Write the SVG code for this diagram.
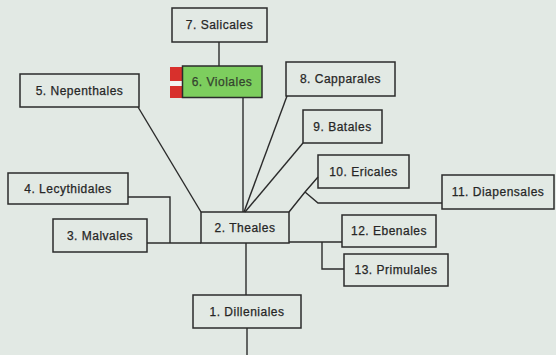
<svg xmlns="http://www.w3.org/2000/svg" width="556" height="355" viewBox="0 0 556 355">
  <style>
    .box { fill: none; stroke: #2b2b2b; stroke-width: 1.5; }
    .lbl { font-family: "Liberation Sans", Arial, sans-serif; font-size: 12px; letter-spacing: 0.5px; fill: #262626; stroke: #262626; stroke-width: 0.25; text-anchor: middle; }
    .wire { fill: none; stroke: #2b2b2b; stroke-width: 1.4; stroke-linejoin: miter; }
  </style>
  <rect x="0" y="0" width="556" height="355" fill="#e2e9e4"/>

  <!-- connectors -->
  <g id="connectors" class="wire">
    <line x1="219" y1="42" x2="219" y2="66"/>
    <line x1="243" y1="97" x2="243" y2="212"/>
    <line x1="138" y1="107" x2="201" y2="212"/>
    <line x1="287" y1="96" x2="244" y2="212"/>
    <line x1="303" y1="143" x2="245" y2="212"/>
    <polyline points="318,177 305,192 289,212"/>
    <polyline points="305,192 318,203 442,203"/>
    <polyline points="128,197 170,197 170,243"/>
    <line x1="147" y1="243" x2="201" y2="243"/>
    <line x1="289" y1="242" x2="342" y2="242"/>
    <polyline points="322,242 322,269 344,269"/>
    <line x1="246" y1="243" x2="246" y2="295"/>
    <line x1="247" y1="328" x2="247" y2="355"/>
  </g>

  <g id="n7">
    <rect class="box" x="172" y="8" width="95" height="34"/>
    <text class="lbl" x="219.5" y="29">7. Salicales</text>
  </g>
  <g id="n6">
    <!-- red tabs with a pale gap between them -->
    <rect x="170" y="81" width="13" height="5" fill="#f3f3f1"/>
    <rect x="170" y="67" width="13" height="14" fill="#d8302c"/>
    <rect x="170" y="86" width="13" height="12" fill="#d8302c"/>
    <rect x="182.5" y="66" width="79.5" height="31.5" fill="#7dce5e" stroke="#2b2b2b" stroke-width="1.5"/>
    <text class="lbl" x="222" y="86" style="fill:#34432f;stroke:#34432f">6. Violales</text>
  </g>
  <g id="n5">
    <rect class="box" x="20" y="74" width="119" height="33"/>
    <text class="lbl" x="79.5" y="95">5. Nepenthales</text>
  </g>
  <g id="n8">
    <rect class="box" x="286" y="62" width="109" height="34"/>
    <text class="lbl" x="340.5" y="83">8. Capparales</text>
  </g>
  <g id="n9">
    <rect class="box" x="303" y="110" width="79" height="33"/>
    <text class="lbl" x="342.5" y="131">9. Batales</text>
  </g>
  <g id="n10">
    <rect class="box" x="318" y="155" width="91" height="33"/>
    <text class="lbl" x="363.5" y="176">10. Ericales</text>
  </g>
  <g id="n11">
    <rect class="box" x="442" y="175" width="112" height="34"/>
    <text class="lbl" x="498" y="196">11. Diapensales</text>
  </g>
  <g id="n4">
    <rect class="box" x="8" y="173" width="120" height="31"/>
    <text class="lbl" x="68" y="193">4. Lecythidales</text>
  </g>
  <g id="n3">
    <rect class="box" x="53" y="219" width="94" height="33"/>
    <text class="lbl" x="100" y="240">3. Malvales</text>
  </g>
  <g id="n2">
    <rect class="box" x="201" y="212" width="88" height="31"/>
    <text class="lbl" x="245" y="232">2. Theales</text>
  </g>
  <g id="n12">
    <rect class="box" x="342" y="215" width="94" height="32"/>
    <text class="lbl" x="389" y="235">12. Ebenales</text>
  </g>
  <g id="n13">
    <rect class="box" x="344" y="254" width="104" height="32"/>
    <text class="lbl" x="396" y="274">13. Primulales</text>
  </g>
  <g id="n1">
    <rect class="box" x="193" y="295" width="108" height="33"/>
    <text class="lbl" x="247" y="316">1. Dilleniales</text>
  </g>
</svg>
